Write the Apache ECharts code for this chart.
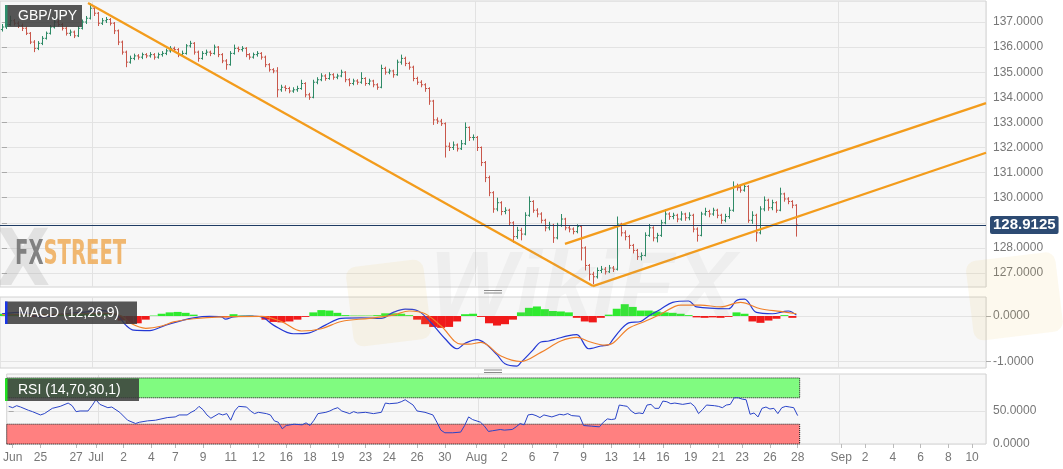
<!DOCTYPE html>
<html><head><meta charset="utf-8">
<script src="https://cdn.jsdelivr.net/npm/echarts@6.0.0/dist/echarts.min.js"></script>
<style>html,body{margin:0;padding:0;background:#fff}#c{width:1063px;height:469px}</style>
</head><body><div id="c"></div>
<script>
// ---------- data ----------
const slotCount = 247; // 4-hour slots incl. future blank area
const tickIndex  = [1,8,17,22,29,36,42,49,56,63,70,76,83,90,96,103,110,118,125,132,138,145,152,159,165,172,179,185,192,199,210,216,223,230,237,243];
const tickLabels = ['Jun','25','27','Jul','2','4','7','9','11','12','16','18','19','23','24','26','30','Aug','2','6','7','9','13','14','16','19','21','23','26','28','Sep','2','4','6','8','10'];
const monthLineIndex = [23,119,210];
const priceTicks = [127,128,129,130,131,132,133,134,135,136,137];
const priceLabelTicks = [127,128,130,131,132,133,134,135,136,137];
const macdTicks = [-1,0];
const rsiTicks = [0,50];
const lastPrice = 128.9125;

// [open, close, low, high] per slot, from slot 0
const ohlc = [
[136.70,136.80,136.62,136.92],[136.80,136.90,136.72,137.02],[136.90,137.05,136.85,137.25],[137.05,136.95,136.86,137.12],[136.95,136.85,136.76,137.03],
[136.85,136.75,136.64,136.94],[136.75,136.55,136.48,136.82],[136.55,136.20,136.12,136.60],[136.20,135.95,135.80,136.28],[135.95,136.15,135.88,136.24],
[136.15,136.35,136.08,136.44],[136.35,136.55,136.30,136.62],[136.55,136.80,136.50,136.88],[136.80,137.00,136.74,137.18],[137.00,136.90,136.82,137.10],
[136.90,136.75,136.66,136.96],[136.75,136.55,136.46,136.82],[136.55,136.60,136.44,136.70],[136.60,136.45,136.36,136.66],[136.45,136.75,136.40,136.84],
[136.75,137.00,136.70,137.10],[137.00,137.15,136.92,137.24],[137.15,137.55,137.10,137.75],[137.55,137.35,137.24,137.62],[137.35,136.95,136.84,137.40],
[136.95,137.05,136.88,137.16],[137.05,137.10,136.96,137.20],[137.10,136.95,136.86,137.16],[136.95,136.65,136.52,137.00],[136.65,136.20,136.08,136.70],
[136.20,135.80,135.70,136.26],[135.80,135.40,135.20,135.86],[135.40,135.55,135.34,135.66],[135.55,135.65,135.48,135.74],[135.65,135.60,135.50,135.72],
[135.60,135.70,135.52,135.78],[135.70,135.65,135.56,135.76],[135.65,135.70,135.58,135.80],[135.70,135.60,135.50,135.76],[135.60,135.70,135.54,135.78],
[135.70,135.75,135.62,135.84],[135.75,135.85,135.68,135.94],[135.85,135.95,135.78,136.04],[135.95,135.90,135.80,136.02],[135.90,135.70,135.60,135.96],
[135.70,135.75,135.62,135.86],[135.75,136.05,135.70,136.12],[136.05,136.15,135.98,136.25],[136.15,135.80,135.70,136.20],[135.80,135.55,135.42,135.86],
[135.55,135.75,135.50,135.84],[135.75,135.80,135.66,135.90],[135.80,135.75,135.64,135.86],[135.75,136.00,135.70,136.10],[136.00,135.70,135.60,136.04],
[135.70,135.45,135.36,135.76],[135.45,135.30,135.10,135.52],[135.30,135.75,135.26,135.84],[135.75,135.95,135.70,136.10],[135.95,135.90,135.80,136.02],
[135.90,135.95,135.82,136.04],[135.95,135.70,135.60,136.00],[135.70,135.60,135.50,135.76],[135.60,135.70,135.54,135.78],[135.70,135.75,135.62,135.84],
[135.75,135.60,135.50,135.80],[135.60,135.30,135.20,135.66],[135.30,135.10,135.02,135.36],[135.10,135.05,134.96,135.16],[135.05,134.30,134.00,135.20],
[134.30,134.40,134.22,134.50],[134.40,134.35,134.24,134.48],[134.35,134.25,134.16,134.42],[134.25,134.30,134.18,134.40],[134.30,134.35,134.22,134.46],
[134.35,134.55,134.30,134.70],[134.55,134.10,134.00,134.60],[134.10,134.00,133.90,134.18],[134.00,134.60,133.96,134.70],[134.60,134.70,134.52,134.80],
[134.70,134.85,134.64,134.96],[134.85,134.75,134.66,134.92],[134.75,134.90,134.70,135.00],[134.90,134.80,134.70,134.96],[134.80,134.85,134.72,134.94],
[134.85,135.00,134.80,135.10],[135.00,134.70,134.60,135.04],[134.70,134.55,134.44,134.76],[134.55,134.65,134.48,134.74],[134.65,134.60,134.50,134.72],
[134.60,134.75,134.54,135.00],[134.75,134.55,134.46,134.80],[134.55,134.65,134.48,134.74],[134.65,134.50,134.40,134.70],[134.50,134.40,134.30,134.56],
[134.40,135.15,134.36,135.30],[135.15,135.00,134.90,135.22],[135.00,135.05,134.92,135.14],[135.05,134.90,134.78,135.10],[134.90,135.40,134.86,135.50],
[135.40,135.55,135.30,135.70],[135.55,135.35,135.24,135.62],[135.35,135.20,135.10,135.42],[135.20,134.75,134.64,135.26],[134.75,134.60,134.50,134.82],
[134.60,134.50,134.40,134.68],[134.50,134.35,134.22,134.56],[134.35,133.85,133.70,134.40],[133.85,133.10,132.90,133.90],[133.10,133.05,132.94,133.20],
[133.05,132.95,132.86,133.14],[132.95,132.05,131.60,133.00],[132.05,132.00,131.86,132.20],[132.00,132.10,131.90,132.24],[132.10,131.95,131.84,132.16],
[131.95,132.15,131.90,132.30],[132.15,132.80,132.10,133.00],[132.80,132.40,132.26,132.84],[132.40,132.40,132.28,132.52],[132.40,132.00,131.86,132.46],
[132.00,131.40,131.26,132.04],[131.40,130.80,130.62,131.46],[130.80,130.20,130.06,130.88],[130.20,129.55,129.40,130.26],[129.55,129.80,129.46,130.00],
[129.80,129.45,129.30,129.86],[129.45,129.50,129.34,129.62],[129.50,129.00,128.88,129.56],[129.00,128.45,128.20,129.06],[128.45,128.70,128.36,128.84],
[128.70,128.55,128.30,128.80],[128.55,129.30,128.50,129.42],[129.30,129.85,129.24,130.05],[129.85,129.50,129.40,129.90],[129.50,129.35,129.22,129.58],
[129.35,129.10,128.98,129.42],[129.10,128.80,128.66,129.16],[128.80,128.90,128.70,129.04],[128.90,128.40,128.20,128.96],[128.40,128.90,128.34,129.00],
[128.90,129.15,128.84,129.35],[129.15,128.80,128.70,129.20],[128.80,128.75,128.62,128.88],[128.75,128.65,128.54,128.82],[128.65,128.85,128.58,128.94],
[128.85,128.00,127.50,128.90],[128.00,127.30,127.10,128.06],[127.30,126.95,126.70,127.36],[126.95,126.85,126.55,127.05],[126.85,127.10,126.78,127.22],
[127.10,127.15,127.00,127.28],[127.15,127.05,126.94,127.24],[127.05,127.20,127.00,127.32],[127.20,127.15,127.04,127.28],[127.15,128.95,127.10,129.25],
[128.95,128.60,128.46,129.00],[128.60,128.45,128.30,128.70],[128.45,128.10,127.96,128.52],[128.10,127.90,127.78,128.16],[127.90,127.65,127.52,127.96],
[127.65,127.70,127.50,127.82],[127.70,128.50,127.66,128.62],[128.50,128.80,128.44,128.95],[128.80,128.40,128.26,128.86],[128.40,128.50,128.22,128.60],
[128.50,129.00,128.44,129.12],[129.00,129.35,128.94,129.55],[129.35,129.25,129.12,129.42],[129.25,129.30,129.14,129.40],[129.30,129.15,129.02,129.36],
[129.15,129.35,129.08,129.46],[129.35,129.20,129.08,129.40],[129.20,129.30,129.10,129.42],[129.30,128.75,128.62,129.36],[128.75,128.50,128.25,128.82],
[128.50,129.35,128.46,129.44],[129.35,129.45,129.28,129.60],[129.45,129.35,129.22,129.52],[129.35,129.50,129.28,129.60],[129.50,129.30,129.18,129.56],
[129.30,129.10,128.96,129.36],[129.10,129.25,129.02,129.36],[129.25,129.50,129.16,129.62],[129.50,130.45,129.44,130.65],[130.45,130.40,130.28,130.56],
[130.40,130.30,130.20,130.48],[130.30,130.45,130.24,130.56],[130.45,129.10,129.00,130.50],[129.10,129.30,128.96,129.46],[129.30,128.60,128.25,129.36],
[128.60,129.55,128.54,129.66],[129.55,129.90,129.46,130.05],[129.90,129.60,129.48,129.96],[129.60,129.80,129.50,129.92],[129.80,129.50,129.40,129.86],
[129.50,130.15,129.46,130.40],[130.15,129.95,129.84,130.20],[129.95,129.85,129.74,130.02],[129.85,129.70,129.58,129.90],[129.70,128.9125,128.45,129.74]
];

// [slot, value]
const macdLine = [[0,0.05],[5,0.08],[10,-0.02],[15,0.04],[20,0.08],[25,0.12],[29,0.0],[31,-0.2],[33,-0.31],[37,-0.32],[41,-0.2],[45,-0.1],[48,-0.04],[52,-0.01],[55,-0.02],[56,-0.07],[58,-0.02],[62,0.0],[65,-0.02],[68,-0.2],[73,-0.39],[77,-0.37],[81,-0.2],[85,-0.05],[90,-0.04],[95,-0.05],[98,0.08],[101,0.15],[104,0.12],[107,-0.1],[111,-0.5],[114,-0.72],[116,-0.6],[119,-0.52],[121,-0.6],[124,-0.85],[126,-1.05],[129,-1.1],[130,-1.02],[133,-0.75],[135,-0.57],[137,-0.55],[139,-0.5],[142,-0.43],[144,-0.41],[147,-0.72],[150,-0.66],[152,-0.63],[153,-0.52],[155,-0.3],[157,-0.15],[160,-0.12],[162,0.0],[165,0.15],[168,0.3],[172,0.33],[174,0.2],[182,0.16],[184,0.34],[186,0.37],[189,0.08],[193,0.05],[196,0.1],[197,0.11],[199,0.02]];
const signalLine = [[0,0.03],[10,0.03],[20,0.05],[27,0.06],[30,0.0],[32,-0.15],[36,-0.27],[40,-0.22],[43,-0.13],[48,-0.06],[55,-0.02],[65,-0.01],[70,-0.12],[75,-0.33],[80,-0.28],[85,-0.12],[92,-0.05],[98,0.02],[102,0.11],[106,0.05],[110,-0.22],[115,-0.62],[117,-0.62],[120,-0.58],[125,-0.88],[130,-1.0],[135,-0.8],[140,-0.55],[144,-0.47],[147,-0.56],[151,-0.64],[153,-0.6],[157,-0.27],[161,-0.12],[165,0.04],[170,0.24],[175,0.24],[180,0.2],[185,0.3],[190,0.16],[195,0.1],[199,0.05]];
const histogram = [[0,0.05],[2,0.05],[4,0.04],[6,0.03],[8,-0.02],[10,-0.03],[12,0.0],[14,0.03],[16,0.04],[18,0.04],[20,0.05],[22,0.06],[24,0.06],[26,0.05],[28,0.01],[30,-0.10],[32,-0.17],[34,-0.16],[36,-0.08],[38,0.01],[40,0.05],[42,0.08],[44,0.09],[46,0.07],[48,0.03],[50,0.0],[52,-0.01],[54,-0.02],[56,-0.03],[58,0.04],[60,0.01],[62,0.01],[64,0.0],[66,-0.08],[68,-0.13],[70,-0.14],[72,-0.12],[74,-0.08],[76,-0.02],[78,0.08],[80,0.13],[82,0.12],[84,0.07],[86,0.02],[88,0.01],[90,0.01],[92,0.01],[94,0.02],[96,0.06],[98,0.06],[100,0.05],[102,0.02],[104,-0.08],[106,-0.18],[108,-0.24],[110,-0.26],[112,-0.24],[114,-0.12],[116,0.04],[118,0.05],[120,-0.02],[122,-0.16],[124,-0.21],[126,-0.18],[128,-0.08],[130,0.08],[132,0.18],[134,0.21],[136,0.15],[138,0.11],[140,0.10],[142,0.08],[144,-0.04],[146,-0.12],[148,-0.14],[150,-0.04],[152,0.03],[154,0.16],[156,0.26],[158,0.2],[160,0.12],[162,0.12],[164,0.1],[166,0.08],[168,0.07],[170,0.05],[172,0.02],[174,-0.03],[176,-0.04],[178,-0.03],[180,-0.04],[182,-0.02],[184,0.08],[186,0.05],[188,-0.12],[190,-0.15],[192,-0.10],[194,-0.06],[196,0.02],[198,-0.04]];
const rsi = [[0,57],[1,55],[2,58],[3,56],[5,51],[6,49],[8,44],[9,46],[11,54],[13,57],[15,62],[16,58],[17,49],[18,50],[20,50],[21,58],[22,67],[23,60],[25,55],[26,56],[28,48],[30,36],[32,31],[33,33],[35,35],[37,36],[40,40],[42,41],[43,44],[45,44],[46,48],[47,51],[48,57],[49,52],[50,44],[51,39],[53,46],[54,44],[55,46],[56,36],[57,50],[58,57],[60,56],[61,50],[62,46],[63,48],[65,46],[66,44],[67,35],[68,33],[69,23],[70,28],[72,30],[74,29],[75,32],[76,28],[77,36],[78,46],[80,48],[81,50],[82,53],[83,55],[84,50],[86,46],[87,49],[88,47],[90,48],[92,46],[94,48],[95,62],[96,61],[98,62],[99,64],[100,67],[101,63],[102,59],[103,50],[105,48],[107,44],[108,33],[109,21],[110,17],[112,17],[114,18],[115,28],[116,41],[117,37],[119,33],[120,27],[121,19],[122,20],[124,22],[125,21],[127,22],[128,26],[129,31],[130,29],[131,44],[132,45],[133,43],[134,40],[135,44],[137,41],[139,45],[140,44],[141,46],[142,43],[144,42],[145,28],[147,27],[149,26],[150,33],[151,38],[152,37],[153,38],[154,59],[155,58],[156,57],[157,50],[158,46],[159,47],[160,46],[161,59],[162,60],[163,54],[164,54],[165,65],[166,64],[167,61],[168,62],[170,60],[172,62],[173,57],[174,46],[175,52],[176,59],[178,58],[179,57],[180,55],[181,59],[182,60],[183,70],[184,70],[185,68],[186,67],[187,45],[188,47],[189,41],[190,54],[191,56],[192,53],[193,54],[194,46],[195,55],[196,57],[197,56],[198,55],[199,43]];
const rsiUpper = 70, rsiLower = 30;

// trendlines: [slot (fractional), price]
const trendDown    = [[21.54,137.76],[148.05,126.48]];
const channelUpper = [[141.03,128.16],[246.5,133.77]];
const channelLower = [[148.05,126.48],[246.5,131.79]];

// ---------- chart ----------
const FONT = '"Liberation Sans", Arial, sans-serif';
const UP = '#2e8a66', DOWN = '#c9574b', ORANGE = '#f39c1c';
const catData = Array.from({length: slotCount}, (_, i) => 'c' + i);
const labelMap = {};
tickIndex.forEach((idx, k) => { labelMap[idx] = tickLabels[k]; });
const isTick = (i) => labelMap[i] !== undefined;
const isMonth = (i) => monthLineIndex.indexOf(i) >= 0;
const firstEdge = -0.5, lastEdge = ohlc.length - 0.5;

function catAxis(grid, withLabels) {
  return {
    type: 'category', gridIndex: grid, data: catData, boundaryGap: true,
    axisLine: {show: false},
    axisTick: {show: withLabels, interval: (i) => isTick(i), alignWithLabel: true, length: 4, lineStyle: {color: '#bbb'}},
    axisLabel: {show: withLabels, interval: (i) => isTick(i), formatter: (v, i) => labelMap[i] || '',
      color: '#777', fontSize: 12, fontFamily: FONT, margin: 8},
    splitLine: {show: true, interval: (i) => isMonth(i), lineStyle: {color: '#e2e2e2', width: 1}}
  };
}
function valAxis(grid, min, max, ticks, labelTicks) {
  return {
    type: 'value', gridIndex: grid, position: 'right', min: min, max: max, scale: true,
    axisLine: {show: false},
    axisTick: {show: true, customValues: ticks, length: 5, lineStyle: {color: '#aaa'}},
    axisLabel: {customValues: labelTicks, formatter: (v) => v.toFixed(4), color: '#777', fontSize: 12, fontFamily: FONT, margin: 7},
    splitLine: {show: true, lineStyle: {color: '#e3e3e3'}}
  };
}

function renderOHLC(params, api) {
  const i = api.value(0), o = api.value(1), c = api.value(2), l = api.value(3), h = api.value(4);
  const pH = api.coord([i, h]), pL = api.coord([i, l]), pO = api.coord([i, o]), pC = api.coord([i, c]);
  const x = Math.round(pH[0]) + 0.5;
  const col = c >= o ? UP : DOWN;
  const t = 1.6;
  return {type: 'group', children: [
    {type: 'line', shape: {x1: x, y1: pH[1], x2: x, y2: pL[1]}, style: {stroke: col, lineWidth: 1}},
    {type: 'line', shape: {x1: x - t, y1: pO[1], x2: x, y2: pO[1]}, style: {stroke: col, lineWidth: 1}},
    {type: 'line', shape: {x1: x, y1: pC[1], x2: x + t, y2: pC[1]}, style: {stroke: col, lineWidth: 1}}
  ]};
}

const gridStyle = {show: true, backgroundColor: '#f7f7f7', borderColor: '#d2d2d2', borderWidth: 1};
const TOP = {zlevel: 1, z: 100};
function labelBox(x, y, w, h, text, accent) {
  return {type: 'group', x: x, y: y, children: [
    Object.assign({type: 'rect', shape: {x: 0, y: 0, width: w, height: h}, style: {fill: 'rgba(58,58,58,0.85)'}}, TOP),
    Object.assign({type: 'rect', shape: {x: 0, y: 0, width: 2.5, height: h}, style: {fill: accent}}, TOP),
    Object.assign({type: 'text', x: 13, y: h / 2, style: {text: text, fill: '#fff', font: '14px ' + FONT, textVerticalAlign: 'middle'}}, TOP)
  ]};
}
function handle(y) {
  return {type: 'group', children: [
    Object.assign({type: 'line', shape: {x1: 484, y1: y, x2: 502, y2: y}, style: {stroke: '#8a8a8a', lineWidth: 1}}, TOP),
    Object.assign({type: 'line', shape: {x1: 484, y1: y + 2.5, x2: 502, y2: y + 2.5}, style: {stroke: '#8a8a8a', lineWidth: 1}}, TOP)
  ]};
}
const WMFONT = '"DejaVu Sans Condensed", "DejaVu Sans", sans-serif';

const chart = echarts.init(document.getElementById('c'), null, {renderer: 'canvas'});
chart.setOption({
  animation: false,
  backgroundColor: '#ffffff',
  grid: [
    Object.assign({left: 0, top: 1, width: 986, height: 286}, gridStyle),
    Object.assign({left: 0, top: 297, width: 986, height: 71}, gridStyle),
    Object.assign({left: 0, top: 374, width: 986, height: 70}, gridStyle)
  ],
  xAxis: [
    catAxis(0, false), catAxis(1, false), catAxis(2, true),
    {type: 'value', gridIndex: 0, min: -0.5, max: slotCount - 0.5, show: false},
    {type: 'value', gridIndex: 2, min: -0.5, max: slotCount - 0.5, show: false}
  ],
  yAxis: [
    valAxis(0, 126.442, 137.837, priceTicks, priceLabelTicks),
    valAxis(1, -1.143, 0.418, macdTicks, macdTicks),
    valAxis(2, 0, 106, rsiTicks, rsiTicks)
  ],
  series: [
    {
      type: 'custom', name: 'GBP/JPY', xAxisIndex: 0, yAxisIndex: 0, clip: true,
      renderItem: renderOHLC, encode: {x: 0, y: [1, 2, 3, 4]},
      data: ohlc.map((r, i) => [i, r[0], r[1], r[2], r[3]]),
      z: 3,
      markLine: {
        silent: true, symbol: ['none', 'none'], animation: false,
        lineStyle: {color: '#1f3c64', width: 1, type: 'solid'},
        label: {show: true, position: 'end', distance: 4, formatter: () => lastPrice.toFixed(4),
          backgroundColor: '#2d4b73', color: '#fff', fontWeight: 'bold', fontSize: 15, fontFamily: FONT,
          padding: [2, 3, 1, 3], borderRadius: 2},
        data: [{yAxis: lastPrice}]
      }
    },
    {type: 'line', xAxisIndex: 3, yAxisIndex: 0, data: trendDown, symbol: 'none', lineStyle: {color: ORANGE, width: 2.3}, z: 4},
    {type: 'line', xAxisIndex: 3, yAxisIndex: 0, data: channelUpper, symbol: 'none', lineStyle: {color: ORANGE, width: 2.3}, z: 4},
    {type: 'line', xAxisIndex: 3, yAxisIndex: 0, data: channelLower, symbol: 'none', lineStyle: {color: ORANGE, width: 2.3}, z: 4},
    {
      type: 'bar', xAxisIndex: 1, yAxisIndex: 1, data: histogram, barWidth: 8, barGap: '-100%',
      itemStyle: {color: (p) => p.value[1] >= 0 ? '#2fea2f' : '#f01a1a'}, z: 2
    },
    {type: 'line', xAxisIndex: 1, yAxisIndex: 1, data: macdLine, symbol: 'none', smooth: 0.35, lineStyle: {color: '#2438d4', width: 1.2}, z: 4},
    {type: 'line', xAxisIndex: 1, yAxisIndex: 1, data: signalLine, symbol: 'none', smooth: 0.35, lineStyle: {color: '#f0802a', width: 1.2}, z: 4},
    {
      type: 'line', xAxisIndex: 4, yAxisIndex: 2, data: rsi, symbol: 'none', lineStyle: {color: '#2a44c8', width: 1}, z: 4,
      markArea: {
        silent: true,
        data: [
          [{xAxis: firstEdge, yAxis: rsiUpper, itemStyle: {color: '#80fb80', borderColor: '#111', borderWidth: 1, borderType: 'dotted'}}, {xAxis: lastEdge, yAxis: 100}],
          [{xAxis: firstEdge, yAxis: 0, itemStyle: {color: '#ff8080', borderColor: '#111', borderWidth: 1, borderType: 'dotted'}}, {xAxis: lastEdge, yAxis: rsiLower}]
        ]
      }
    }
  ],
  graphic: {
    zlevel: 1, z: 100,
    elements: [
      Object.assign({type: 'text', x: -4, y: 226, style: {text: 'X', fill: 'rgba(150,150,150,0.22)', font: 'bold 78px ' + WMFONT}}, TOP),
      Object.assign({type: 'text', x: 15, y: 238, scaleX: 0.64, style: {
        text: '{a|FX}{b|STREET}', font: 'bold 34px ' + WMFONT,
        rich: {a: {fill: '#6f6f6f', font: 'bold 34px ' + WMFONT}, b: {fill: '#efab58', font: 'bold 34px ' + WMFONT}},
        opacity: 0.85}}, TOP),
      Object.assign({type: 'rect', x: 345, y: 268, rotation: 0.12, shape: {x: 0, y: 0, width: 78, height: 80, r: 10}, style: {fill: 'rgba(240,200,90,0.10)'}}, TOP),
      Object.assign({type: 'rect', x: 965, y: 262, rotation: 0.12, shape: {x: 0, y: 0, width: 90, height: 80, r: 10}, style: {fill: 'rgba(240,200,90,0.10)'}}, TOP),
      Object.assign({type: 'text', x: 430, y: 245, style: {text: 'WikiFX', fill: 'rgba(160,160,160,0.09)', font: 'italic bold 92px "Liberation Sans"'}}, TOP),
      labelBox(5, 5, 77, 22, 'GBP/JPY', '#2e8f6c'),
      labelBox(5, 301.5, 132, 22.5, 'MACD (12,26,9)', '#1a36e8'),
      labelBox(5, 378.5, 134, 22.5, 'RSI (14,70,30,1)', '#22e022'),
      handle(290.5),
      handle(370)
    ]
  }
});
</script>
</body></html>
